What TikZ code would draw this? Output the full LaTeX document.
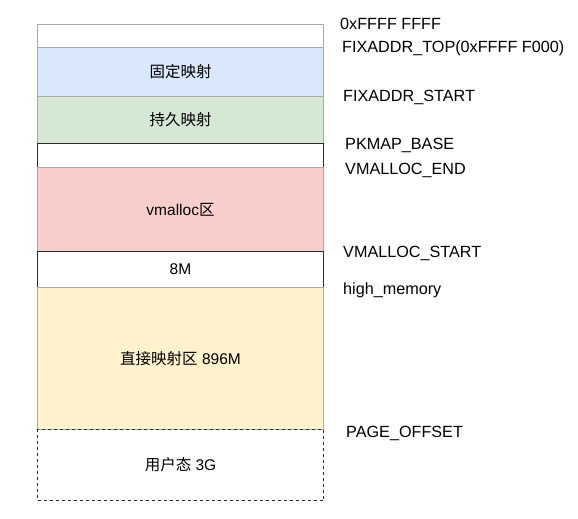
\documentclass[tikz,border=0pt]{standalone}
\usepackage{fontspec}
\setmainfont{Liberation Sans}
\newfontfamily\cjk{Noto Sans CJK SC}
\definecolor{fblue}{HTML}{DAE8FC}
\definecolor{fgreen}{HTML}{D5E8D4}
\definecolor{fpink}{HTML}{F8CECC}
\definecolor{fyellow}{HTML}{FFF2CC}
\definecolor{gborder}{HTML}{A8A8A8}
\definecolor{dborder}{HTML}{2A2A2A}
\tikzset{
  seg/.style={draw=gborder, line width=1pt, minimum width=286pt, inner sep=0pt, anchor=north west, font=\fontsize{15.5}{18}\selectfont},
  dseg/.style={seg, draw=dborder},
  lbl/.style={anchor=west, inner sep=0pt, font=\fontsize{16.2}{18}\selectfont}
}
\begin{document}
\begin{tikzpicture}[x=1pt,y=-1pt]
\useasboundingbox (0,0) rectangle (578,519);
\node[seg, fill=white, minimum height=23pt] (top) at (37,24) {};
\node[seg, fill=fblue, minimum height=49pt] (fix) at (37,47) {\cjk 固定映射};
\node[seg, fill=fgreen, minimum height=47pt] (pk) at (37,96) {\cjk 持久映射};
\node[dseg, fill=white, minimum height=24pt] (gap1) at (37,143) {};
\node[seg, fill=fpink, minimum height=84pt] (vm) at (37,167) {vmalloc{\cjk 区}};
\node[dseg, fill=white, minimum height=36pt] (gap2) at (37,251) {8M};
\node[seg, fill=fyellow, minimum height=142pt] (dir) at (37,287) {{\cjk 直接映射区} 896M};
\node[seg, draw=dborder, dashed, fill=none, minimum height=71pt] (user) at (37,429) {{\cjk 用户态} 3G};
\node[lbl] (l1) at (340,23.5) {0xFFFF FFFF};
\node[lbl] (l2) at (342,48.5) {FIXADDR\_TOP(0xFFFF F000)};
\node[lbl] (l3) at (343,97) {FIXADDR\_START};
\node[lbl] (l4) at (345,145) {PKMAP\_BASE};
\node[lbl] (l5) at (345,170) {VMALLOC\_END};
\node[lbl] (l6) at (343,253) {VMALLOC\_START};
\node[lbl] (l7) at (343,290) {high\_memory};
\node[lbl] (l8) at (346,433) {PAGE\_OFFSET};
\end{tikzpicture}
\end{document}
